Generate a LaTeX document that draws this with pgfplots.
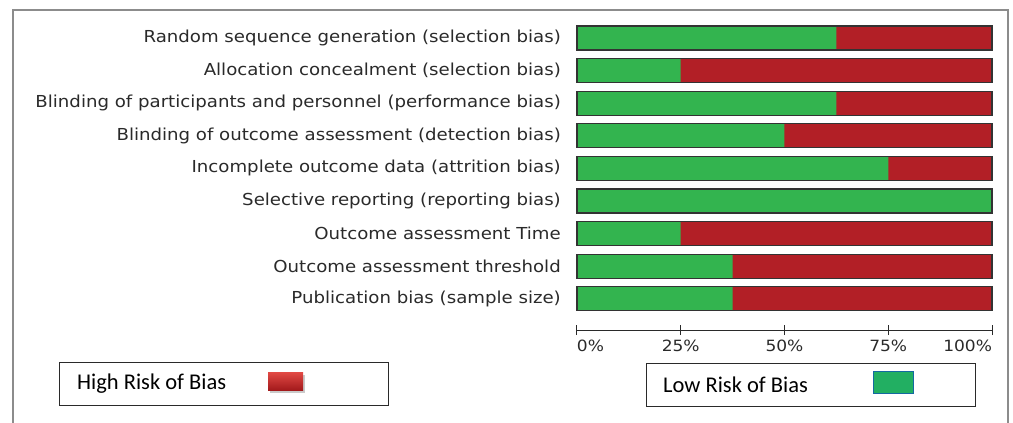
\documentclass[border=0pt]{standalone}
\usepackage{pgfplots}
\pgfplotsset{compat=1.18}
\usepackage{fontspec}
\setmainfont{DejaVu Sans}
\newfontfamily\labelfont[FakeStretch=1.1]{DejaVu Sans}
\newfontfamily\carlito{Carlito}
\definecolor{barred}{HTML}{B21F26}
\definecolor{bargreen}{HTML}{33B44F}
\definecolor{bordergray}{HTML}{333333}
\definecolor{leggreen}{HTML}{22AF62}
\definecolor{legredtop}{HTML}{E24A45}
\definecolor{legredbot}{HTML}{A31A1C}
\definecolor{framegray}{HTML}{8C8C8C}
\definecolor{labelgray}{HTML}{2A2A2A}
\pgfplotstableread{
y low high
0 62.5 100
1 25   100
2 62.5 100
3 50   100
4 75   100
5 100  100
6 25   100
7 37.5 100
8 37.5 100
}\risk
\begin{document}
\begin{tikzpicture}
\useasboundingbox (0pt,0pt) rectangle (1013pt,-423pt);
% outer frame
\draw[framegray, line width=1.2pt] (13pt,-423pt) -- (13pt,-10pt) -- (1008pt,-10pt) -- (1008pt,-423pt);
\begin{axis}[
  at={(577pt,-330pt)}, anchor=south west,
  scale only axis, width=415pt, height=308.3pt,
  xmin=0, xmax=100, ymin=-0.5, ymax=8.957,
  y dir=reverse, clip=false,
  axis x line*=bottom, axis y line*=left,
  y axis line style={draw=none},
  x axis line style={draw=labelgray, line width=1pt},
  xtick={0,25,50,75,100},
  xticklabels={\makebox[0pt][l]{0\%},25\%,50\%,75\%,\makebox[0pt][r]{100\%}},
  xtick align=center, major tick length=10pt,
  xtick style={draw=labelgray, line width=1pt},
  xticklabel style={font=\labelfont\fontsize{15.5}{18}\selectfont, text=labelgray, yshift=-1pt},
  ytick={0,...,8},
  yticklabels={Random sequence generation (selection bias),
    Allocation concealment (selection bias),
    Blinding of participants and personnel (performance bias),
    Blinding of outcome assessment (detection bias),
    Incomplete outcome data (attrition bias),
    Selective reporting (reporting bias),
    Outcome assessment Time,
    Outcome assessment threshold,
    Publication bias (sample size)},
  ytick style={draw=none},
  yticklabel style={font=\labelfont\fontsize{16.5}{19}\selectfont, text=labelgray, anchor=east, inner sep=0pt, xshift=-6pt},
  xbar, bar width=24pt,
]
\addplot[xbar, bar shift=0pt, fill=barred, draw=none] table[x=high, y=y] {\risk};
\addplot[xbar, bar shift=0pt, fill=bargreen, draw=none] table[x=low, y=y] {\risk};
\addplot[xbar, bar shift=0pt, fill=none, draw=bordergray, line width=1.3pt] table[x=high, y=y] {\risk};
\end{axis}
% legend boxes
\draw[labelgray, line width=1pt] (59pt,-362pt) rectangle (388pt,-405pt);
\node[anchor=west, inner sep=0pt, font=\carlito\fontsize{22.5}{26}\selectfont] at (77pt,-384pt) {High Risk of Bias};
\fill[black!35, opacity=0.6] (270pt,-375pt) rectangle (305pt,-393pt);
\shade[top color=legredtop, bottom color=legredbot] (268pt,-372pt) rectangle (303pt,-390pt);
\draw[labelgray, line width=1pt] (646pt,-363pt) rectangle (975pt,-406pt);
\node[anchor=west, inner sep=0pt, font=\carlito\fontsize{22.5}{26}\selectfont] at (663pt,-385pt) {Low Risk of Bias};
\filldraw[fill=leggreen, draw=leggreen!60!blue, line width=0.6pt] (873pt,-371pt) rectangle (913pt,-393pt);
\end{tikzpicture}
\end{document}
